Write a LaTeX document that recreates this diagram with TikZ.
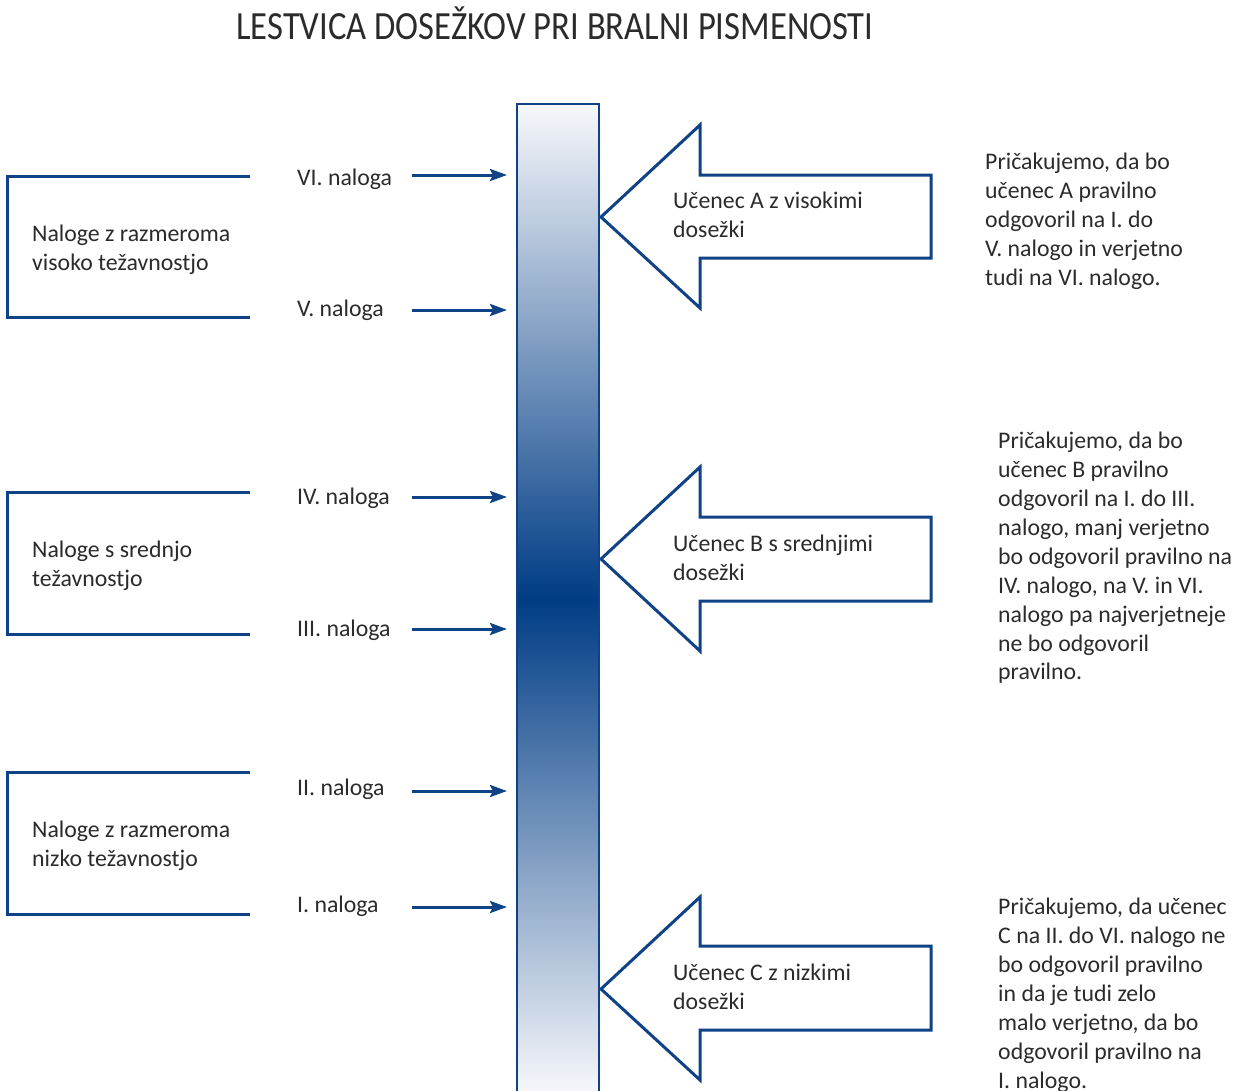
\documentclass[tikz,border=0pt]{standalone}
\usepackage{fontspec}
\setmainfont{Carlito}
\usetikzlibrary{arrows.meta}
\definecolor{bl}{HTML}{0F4386}
\definecolor{barlight}{HTML}{F7F8FB}
\definecolor{bardark}{HTML}{003C85}
\definecolor{txt}{HTML}{2B2B2B}
\tikzset{
  frame/.style={draw=bl, line width=3pt},
  conn/.style={draw=bl, line width=3pt, -{Stealth[length=17pt,width=12pt,inset=3pt]}},
  bigarrow/.style={draw=bl, line width=3pt, fill=white, line join=miter},
  lbl/.style={anchor=base west, inner sep=0pt, text=txt, font=\fontsize{23.8}{28.9}\selectfont},
  blk/.style={anchor=north west, inner sep=0pt, text=txt, align=left, font=\fontsize{23.8}{28.9}\selectfont}
}
\begin{document}
\begin{tikzpicture}[x=1pt,y=-1pt]
\useasboundingbox[fill=white] (0,0) rectangle (1242,1090);
% title
\node[anchor=base, inner sep=0pt, text=txt] (title) at (555,39)
  {\scalebox{0.865}[1]{\fontsize{40}{44}\selectfont LESTVICA DOSEŽKOV PRI BRALNI PISMENOSTI}};
% bar
\node[draw=bl, line width=1.2pt, minimum width=82pt, minimum height=990pt, inner sep=0pt,
      top color=barlight, bottom color=barlight, middle color=bardark] (bar) at (558,599) {};
% brackets
\draw[frame] (250,176) -| (7,317) -- (250,317);
\draw[frame] (250,492) -| (7,634) -- (250,634);
\draw[frame] (250,772) -| (7,914) -- (250,914);
\node[lbl] (g1a) at (32,241) {Naloge z razmeroma};
\node[lbl] (g1b) at (32,270) {visoko težavnostjo};
\node[lbl] (g2a) at (32,557) {Naloge s srednjo};
\node[lbl] (g2b) at (32,586) {težavnostjo};
\node[lbl] (g3a) at (32,837) {Naloge z razmeroma};
\node[lbl] (g3b) at (32,866) {nizko težavnostjo};
% task labels and arrows
\node[lbl] (t6) at (297,185) {VI. naloga};
\node[lbl] (t5) at (297,316) {V. naloga};
\node[lbl] (t4) at (297,504) {IV. naloga};
\node[lbl] (t3) at (297,636) {III. naloga};
\node[lbl] (t2) at (297,795) {II. naloga};
\node[lbl] (t1) at (297,912) {I. naloga};
\foreach \n/\y in {6/175,5/310,4/497,3/629,2/791,1/907}{
  \coordinate (s\n) at (412,\y);
  \coordinate (e\n) at (507,\y);
  \draw[conn] (s\n) -- (e\n);
}
% big arrows
\draw[bigarrow] (931,175) -- (700,175) -- (700,125) -- (601,217) -- (700,308) -- (700,258) -- (931,258) -- cycle;
\draw[bigarrow] (931,517) -- (700,517) -- (700,467) -- (601,559) -- (700,651) -- (700,601) -- (931,601) -- cycle;
\draw[bigarrow] (931,946) -- (700,946) -- (700,897) -- (601,989) -- (700,1080) -- (700,1030) -- (931,1030) -- cycle;
\node[lbl] (a1) at (673,208) {Učenec A z visokimi};
\node[lbl] (a2) at (673,237) {dosežki};
\node[lbl] (b1) at (673,551) {Učenec B s srednjimi};
\node[lbl] (b2) at (673,580) {dosežki};
\node[lbl] (c1) at (673,980) {Učenec C z nizkimi};
\node[lbl] (c2) at (673,1009) {dosežki};
% right texts
\node[blk] (ra) at (985,153) {Pričakujemo, da bo\\učenec A pravilno\\odgovoril na I. do\\V. nalogo in verjetno\\tudi na VI. nalogo.};
\node[blk] (rb) at (998,432) {Pričakujemo, da bo\\učenec B pravilno\\odgovoril na I. do III.\\nalogo, manj verjetno\\bo odgovoril pravilno na\\IV. nalogo, na V. in VI.\\nalogo pa najverjetneje\\ne bo odgovoril\\pravilno.};
\node[blk] (rc) at (998,898) {Pričakujemo, da učenec\\C na II. do VI. nalogo ne\\bo odgovoril pravilno\\in da je tudi zelo\\malo verjetno, da bo\\odgovoril pravilno na\\I. nalogo.};
\end{tikzpicture}
\end{document}
